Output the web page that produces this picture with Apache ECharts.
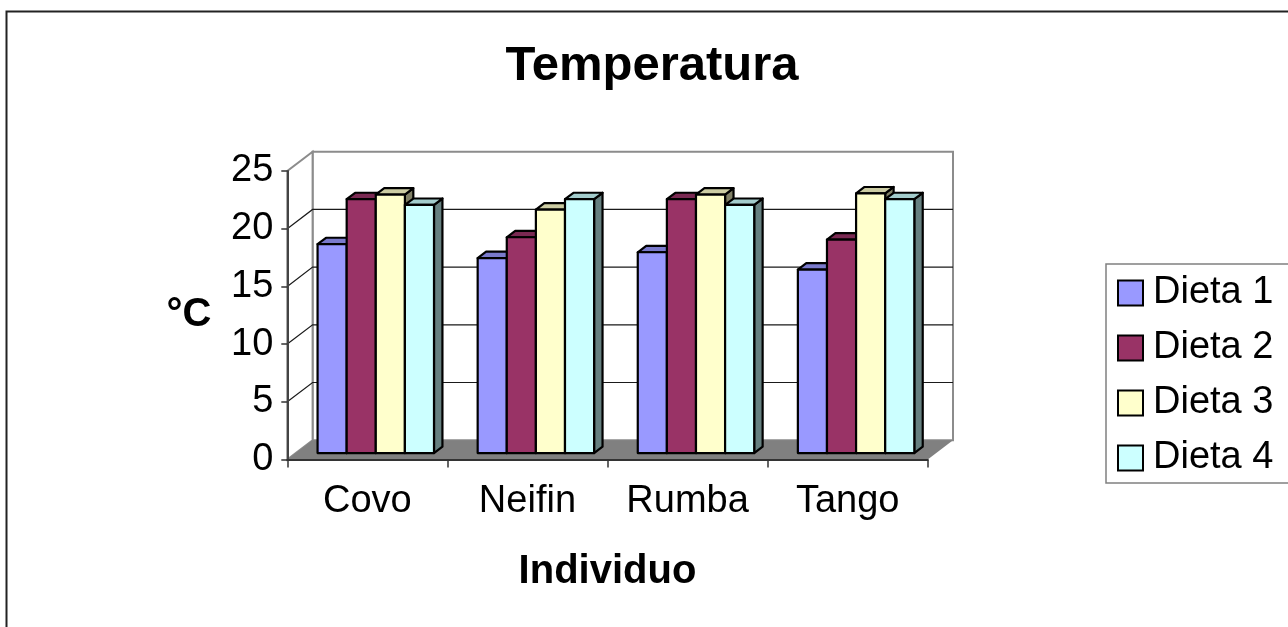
<!DOCTYPE html>
<html>
<head>
<meta charset="utf-8">
<script src="https://cdn.jsdelivr.net/npm/echarts@6/dist/echarts.min.js"></script>
<style>
  html, body { margin: 0; padding: 0; background: #fff; }
  #chart { width: 1288px; height: 627px; }
</style>
</head>
<body>
<div id="chart"></div>
<script>
// Temperature per individual under four diets
const categories = ['Covo', 'Neifin', 'Rumba', 'Tango'];
const seriesNames = ['Dieta 1', 'Dieta 2', 'Dieta 3', 'Dieta 4'];
const dieta1 = [18.1, 16.9, 17.4, 15.9];
const dieta2 = [22.0, 18.7, 22.0, 18.5];
const dieta3 = [22.4, 21.1, 22.4, 22.5];
const dieta4 = [21.5, 22.0, 21.5, 22.0];
const yTicks = [0, 5, 10, 15, 20, 25];

const FONT = "'Liberation Sans', Arial, sans-serif";
// face colours: front, top, side
const palette = [
  ['#9999FF', '#7A7ACC', '#4D4D80'],
  ['#993366', '#7A2952', '#4D1A33'],
  ['#FFFFCC', '#CCCCA3', '#808066'],
  ['#CCFFFF', '#A3CCCC', '#668080']
];
// oblique projection of the chart depth
const DX = 25.3, DY = -19.3;
const F1 = 1 / 3, F2 = 2 / 3;   // bar row sits between these depth fractions
const GAP = 1.5;                 // gap width relative to bar width

const yMin = yTicks[0], yMax = yTicks[yTicks.length - 1];

function frameRender(params, api) {
  const band = api.size([1, 0])[0];
  const x0 = api.coord([0, yMin])[0] - band / 2;
  const x1 = api.coord([categories.length - 1, yMin])[0] + band / 2;
  const y0 = api.coord([0, yMin])[1];
  const yTop = api.coord([0, yMax])[1];
  const children = [];
  // back wall
  children.push({ type: 'polygon', shape: { points: [
    [x0 + DX, y0 + DY], [x1 + DX, y0 + DY], [x1 + DX, yTop + DY], [x0 + DX, yTop + DY]
  ] }, style: { fill: '#fff', stroke: '#8c8c8c', lineWidth: 2 } });
  // left wall
  children.push({ type: 'polygon', shape: { points: [
    [x0, y0], [x0 + DX, y0 + DY], [x0 + DX, yTop + DY], [x0, yTop]
  ] }, style: { fill: '#fff', stroke: '#8c8c8c', lineWidth: 2 } });
  // gridlines on both walls
  yTicks.slice(1, -1).forEach(function (t) {
    const y = api.coord([0, t])[1];
    children.push({ type: 'polyline', shape: { points: [
      [x0, y], [x0 + DX, y + DY], [x1 + DX, y + DY]
    ] }, style: { fill: null, stroke: '#1a1a1a', lineWidth: 1.2 } });
  });
  // floor
  children.push({ type: 'polygon', shape: { points: [
    [x0, y0], [x1, y0], [x1 + DX, y0 + DY], [x0 + DX, y0 + DY]
  ] }, style: { fill: '#808080', stroke: null } });
  return { type: 'group', children: children };
}

function barRender(s) {
  return function (params, api) {
    const cat = api.value(0);
    const val = api.value(1);
    const band = api.size([1, 0])[0];
    const w = band / (categories.length + GAP);
    const left = api.coord([cat, yMin])[0] - band / 2 + (GAP / 2) * w + s * w + F1 * DX;
    const yb = api.coord([cat, yMin])[1] + F1 * DY;
    const yt = api.coord([cat, val])[1] + F1 * DY;
    const ddx = (F2 - F1) * DX, ddy = (F2 - F1) * DY;
    const st = { stroke: '#000', lineWidth: 2.2, lineJoin: 'round' };
    const c = palette[s];
    return { type: 'group', children: [
      { type: 'polygon', shape: { points: [
        [left + w, yt], [left + w + ddx, yt + ddy], [left + w + ddx, yb + ddy], [left + w, yb]
      ] }, style: Object.assign({ fill: c[2] }, st) },
      { type: 'polygon', shape: { points: [
        [left, yt], [left + w, yt], [left + w + ddx, yt + ddy], [left + ddx, yt + ddy]
      ] }, style: Object.assign({ fill: c[1] }, st) },
      { type: 'rect', shape: { x: left, y: yt, width: w, height: yb - yt },
        style: Object.assign({ fill: c[0] }, st) }
    ] };
  };
}

const diets = [dieta1, dieta2, dieta3, dieta4];
const barSeries = diets.map(function (vals, s) {
  return {
    name: seriesNames[s],
    type: 'custom',
    z: 3 + s,
    clip: false,
    itemStyle: { color: palette[s][0] },
    renderItem: barRender(s),
    encode: { x: 0, y: 1 },
    data: vals.map(function (v, i) { return [i, v]; })
  };
});

const chart = echarts.init(document.getElementById('chart'), null, { renderer: 'canvas' });
chart.setOption({
  backgroundColor: '#fff',
  animation: false,
  title: {
    text: 'Temperatura',
    left: 647, top: 37, textAlign: 'center',
    textStyle: { fontFamily: FONT, fontSize: 49, fontWeight: 'bold', color: '#000' }
  },
  legend: {
    orient: 'vertical',
    left: 1106, top: 264,
    padding: [10, 30, 6, 11],
    borderColor: '#808080', borderWidth: 1.5,
    itemWidth: 25, itemHeight: 25, itemGap: 17,
    icon: 'rect',
    itemStyle: { borderColor: '#000', borderWidth: 2 },
    textStyle: { fontFamily: FONT, fontSize: 38, lineHeight: 38, color: '#000', padding: [0, 0, 0, 5] },
    data: seriesNames
  },
  graphic: [{
    type: 'rect', z: 100, silent: true,
    shape: { x: 6.5, y: 11.5, width: 1400, height: 800 },
    style: { fill: null, stroke: '#222', lineWidth: 2 }
  }],
  grid: { left: 287.3, right: 360.3, top: 171, bottom: 167.5 },
  xAxis: {
    type: 'category', data: categories, boundaryGap: true, z: 10,
    axisLine: { lineStyle: { color: '#333', width: 2 } },
    axisTick: { show: true, length: 8, alignWithLabel: false, lineStyle: { color: '#333', width: 1.5 } },
    axisLabel: { fontFamily: FONT, fontSize: 38, color: '#000', margin: 23 },
    name: 'Individuo', nameLocation: 'middle', nameGap: 92,
    nameTextStyle: { fontFamily: FONT, fontSize: 40, fontWeight: 'bold', color: '#000' }
  },
  yAxis: {
    type: 'value', min: yMin, max: yMax, interval: 5, z: 10,
    axisLine: { show: true, lineStyle: { color: '#444', width: 2 } },
    axisTick: { show: true, length: 6, lineStyle: { color: '#333', width: 1.5 } },
    splitLine: { show: false },
    axisLabel: { fontFamily: FONT, fontSize: 38, color: '#000', margin: 14 },
    name: '°C', nameLocation: 'middle', nameGap: 76, nameRotate: 0,
    nameTextStyle: { fontFamily: FONT, fontSize: 40, fontWeight: 'bold', color: '#000' }
  },
  series: [{
    type: 'custom', z: 1, clip: false, silent: true,
    renderItem: frameRender,
    encode: { x: 0, y: 1 },
    data: [[0, 0]]
  }].concat(barSeries)
});
</script>
</body>
</html>
